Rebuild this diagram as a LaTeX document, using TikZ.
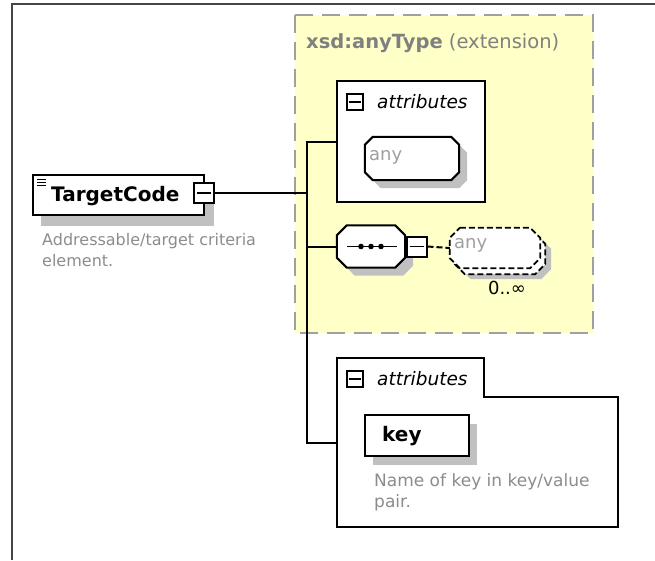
\documentclass[tikz,border=0pt]{standalone}
\usepackage{fontspec}
\setmainfont{DejaVu Sans}
\usetikzlibrary{calc}
\definecolor{yel}{HTML}{FFFFC8}
\definecolor{dashgray}{HTML}{A0A0A0}
\definecolor{shadowgray}{HTML}{C0C0C0}
\definecolor{framegray}{HTML}{454545}
\definecolor{hdrgray}{HTML}{808080}
\definecolor{descgray}{HTML}{8C8C8C}
\definecolor{anygray}{HTML}{A0A0A0}
\pgfdeclarelayer{yellowl}
\pgfdeclarelayer{shadowl}
\pgfsetlayers{yellowl,shadowl,main}
\newcommand\octp[2]{([xshift=#2]#1.north west) -- ([xshift=-#2]#1.north east) -- ([yshift=-#2]#1.north east) -- ([yshift=#2]#1.south east) -- ([xshift=-#2]#1.south east) -- ([xshift=#2]#1.south west) -- ([yshift=#2]#1.south west) -- ([yshift=-#2]#1.north west) -- cycle}
\begin{document}
\begin{tikzpicture}[x=1pt,y=-1pt,
  box/.style={draw=black, line width=2pt, fill=white, inner sep=0pt},
  place/.style={draw=none, inner sep=0pt},
  shd/.style={fill=shadowgray, draw=none},
  conn/.style={draw=black, line width=2pt},
  desc/.style={inner sep=0pt, text=descgray, font=\fontsize{16}{21}\selectfont, align=left},
  bigb/.style={inner sep=0pt, font=\bfseries\fontsize{20}{23}\selectfont},
  attrt/.style={inner sep=0pt, font=\itshape\fontsize{18.5}{21}\selectfont},
  anyt/.style={inner sep=0pt, text=anygray, font=\fontsize{18}{21}\selectfont},
  minus/.style={draw=black, line width=1.6pt},
  dashbox/.style={box, dash pattern=on 6pt off 3pt, line width=1.8pt}
]
\useasboundingbox (0,0) rectangle (655,560);
% outer frame
\draw[framegray, line width=2pt] (12,560) -- (12,4) -- (655,4);

% extension area
\node[place, minimum width=298pt, minimum height=318pt] (ext) at (444,174) {};
\begin{pgfonlayer}{yellowl}
\fill[yel] (ext.north west) rectangle (ext.south east);
\draw[dashgray, line width=2pt, dash pattern=on 18pt off 9pt] (ext.north west) rectangle (ext.south east);
\end{pgfonlayer}
\node[anchor=west, inner sep=0pt, text=hdrgray, font=\fontsize{19.5}{23}\selectfont] (extt) at (306,43) {\textbf{xsd:anyType} (extension)};

% TargetCode
\node[box, minimum width=171pt, minimum height=40pt] (tc) at (118.5,195) {};
\begin{pgfonlayer}{shadowl}
\fill[shd] ([shift={(9pt,-10pt)}]tc.north west) rectangle ([shift={(9pt,-10pt)}]tc.south east);
\end{pgfonlayer}
\node[bigb, anchor=west] (tct) at (51,196) {TargetCode};
\draw[line width=1pt] (37,179.5) -- (46,179.5) (37,182.5) -- (46,182.5) (37,185.5) -- (46,185.5);
\node[box, minimum size=20pt] (tcm) at (203.5,193) {};
\draw[minus] ([xshift=4pt]tcm.west) -- ([xshift=-4pt]tcm.east);
\node[desc, anchor=north west] (tcd) at (42,233) {Addressable/target criteria\\element.};

% attributes box A
\node[box, minimum width=148pt, minimum height=121pt] (attrA) at (411,141.5) {};
\node[box, minimum size=16pt] (attrAm) at (354.5,102) {};
\draw[minus] ([xshift=3pt]attrAm.west) -- ([xshift=-3pt]attrAm.east);
\node[attrt, anchor=west] (attrAt) at (377,102) {attributes};
\node[place, minimum width=94pt, minimum height=43pt] (anyA) at (412,158.5) {};
\fill[shd, transform canvas={shift={(8pt,-8pt)}}] \octp{anyA}{8pt};
\draw[box] \octp{anyA}{8pt};
\node[anyt, anchor=west] (anyAt) at (369,157) {any};

% sequence
\node[place, minimum width=68pt, minimum height=42pt] (seq) at (371,246.5) {};
\fill[shd, transform canvas={shift={(8pt,-8pt)}}] \octp{seq}{10pt};
\draw[box] \octp{seq}{10pt};
\draw[line width=1.6pt] ([xshift=10pt]seq.west) -- ([xshift=-8pt]seq.east);
\foreach \dx in {-10,0,10} \fill ([xshift=\dx pt]seq.center) circle (2.8pt);
\node[box, minimum size=20pt] (seqm) at (416.5,246.5) {};
\draw[minus] ([xshift=4pt]seqm.west) -- ([xshift=-4pt]seqm.east);

% repeated any element
\node[place, minimum width=90pt, minimum height=40pt] (anyB) at (495,248) {};
\fill[shd, transform canvas={shift={(11pt,-11pt)}}] \octp{anyB}{10pt};
\draw[dashbox, transform canvas={shift={(5pt,-6pt)}}] \octp{anyB}{10pt};
\draw[dashbox] \octp{anyB}{10pt};
\node[anyt, anchor=west] (anyBt) at (454,245) {any};
\node[inner sep=0pt, font=\fontsize{18}{21}\selectfont] (card) at (507,288) {0..∞};
\draw[conn, dash pattern=on 6pt off 3pt] (seqm.east) -- (anyB.west);

% attributes box B
\node[place, minimum width=281pt, minimum height=169pt] (attrB) at (477.5,442.5) {};
\draw[box] (attrB.north west) -- ++(147,0) -- ++(0,39) -| (attrB.south east) -- (attrB.south west) -- cycle;
\node[box, minimum size=16pt] (attrBm) at (354.5,379) {};
\draw[minus] ([xshift=3pt]attrBm.west) -- ([xshift=-3pt]attrBm.east);
\node[attrt, anchor=west] (attrBt) at (377,379) {attributes};
\node[place, minimum width=104pt, minimum height=41pt] (key) at (417,435.5) {};
\fill[shd] ([shift={(8pt,-9pt)}]key.north west) rectangle ([shift={(8pt,-9pt)}]key.south east);
\draw[box] (key.north west) rectangle (key.south east);
\node[bigb, anchor=west] (keyt) at (382,436) {key};
\node[desc, anchor=north west, font=\fontsize{17}{21}\selectfont] (keyd) at (374,473) {Name of key in key/value\\pair.};

% connectors
\coordinate (J) at (307,193);
\draw[conn] (tcm.east) -- (J);
\draw[conn] (attrA.west) -| (J |- attrB.west) -- (attrB.west);
\draw[conn] (seq.west) -- (J |- seq.west);
\end{tikzpicture}
\end{document}
